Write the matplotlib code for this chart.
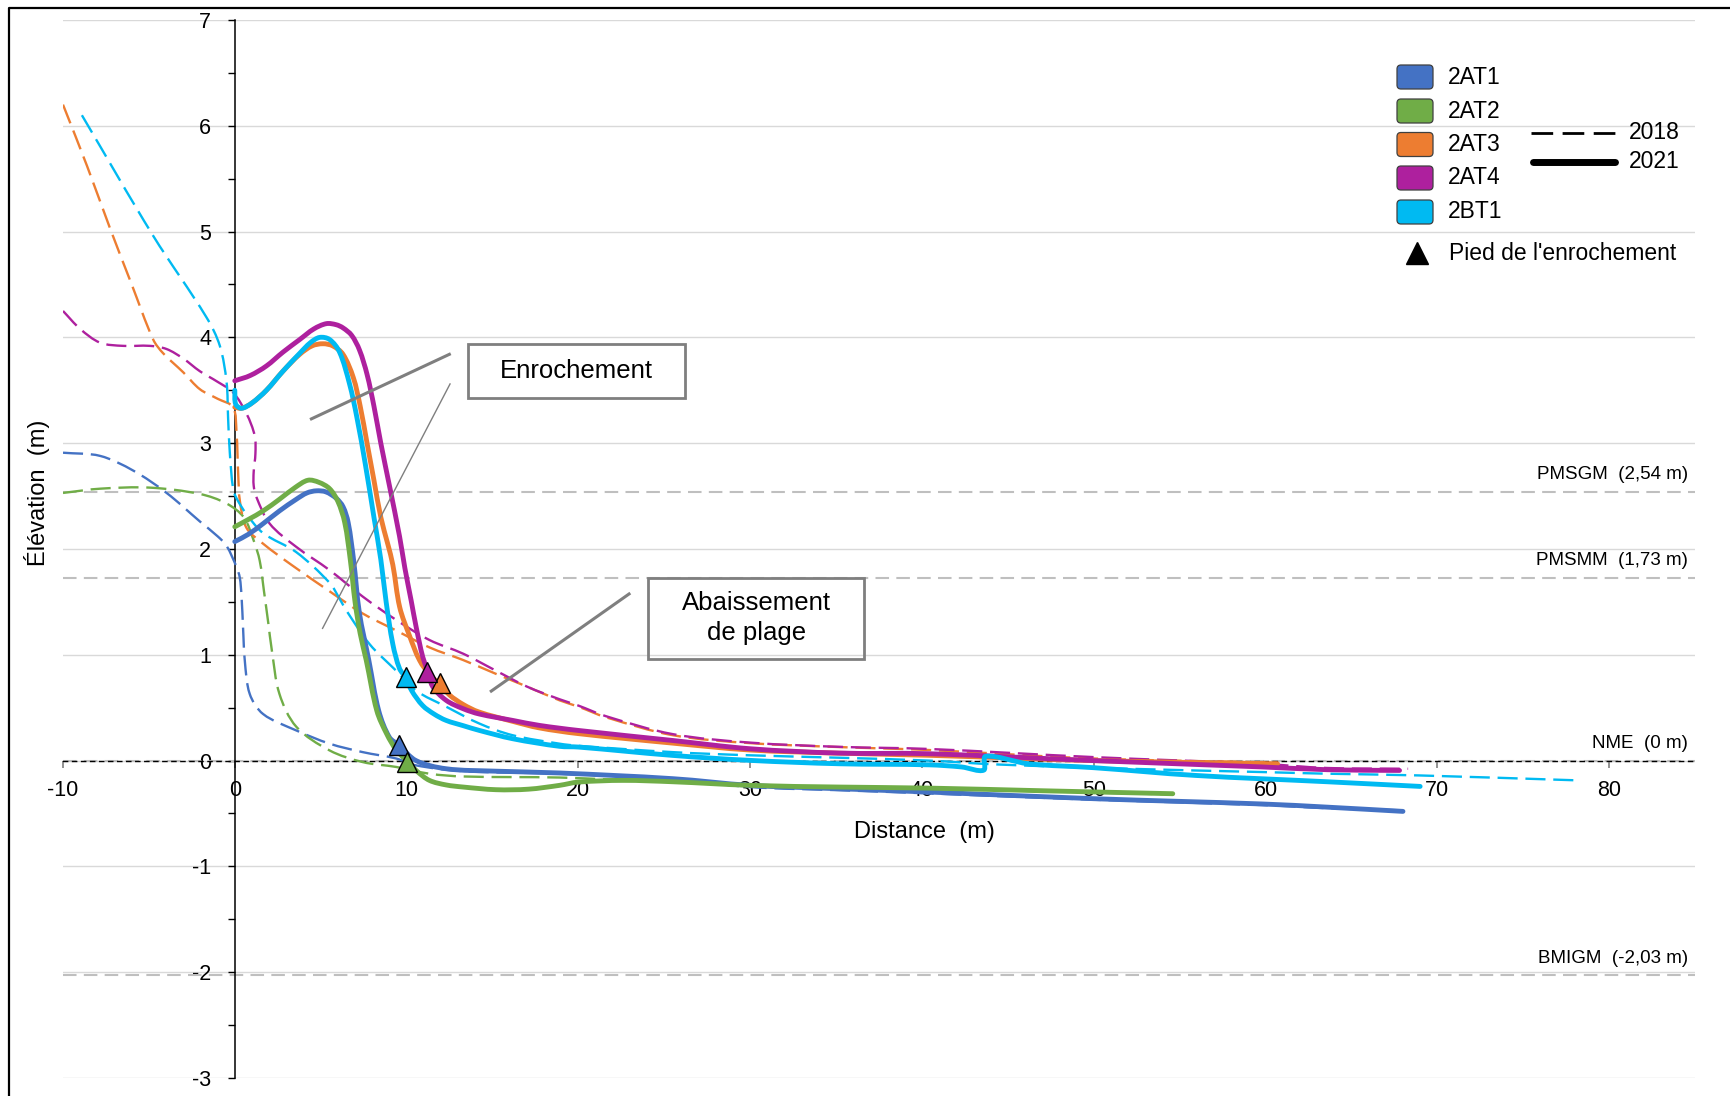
import numpy as np
import matplotlib
matplotlib.use('Agg')
import matplotlib.pyplot as plt
import matplotlib.patches as mpatches
from matplotlib.path import Path
from matplotlib.ticker import MultipleLocator

plt.rcParams['font.family'] = ['Liberation Sans', 'DejaVu Sans']
plt.rcParams['axes.unicode_minus'] = False

# Beach profiles (distance m, elevation m)
profiles = ['2AT1', '2AT2', '2AT3', '2AT4', '2BT1']
colors = ['#4472C4', '#70AD47', '#ED7D31', '#AE209E', '#00BAF2']

# --- 2018 surveys
x_2at1_2018 = [-10, -7.84, -5.9, -3.97, -2.03, -1.0, -0.48, 0.1, 0.29, 0.39, 0.48, 0.58, 0.87, 1.65, 3.58, 5.52,
               7.45, 9.39, 10.55, 13.3, 18.9, 25.5, 30, 35.2, 40.4, 50, 59.8, 63.6, 68]
y_2at1_2018 = [2.91, 2.88, 2.74, 2.53, 2.26, 2.12, 2.03, 1.83, 1.73, 1.56, 1.26, 0.95, 0.63, 0.44, 0.285, 0.16,
               0.08, 0.02, -0.045, -0.1, -0.124, -0.175, -0.25, -0.28, -0.31, -0.37, -0.42, -0.45, -0.47]

x_2at2_2018 = [-10, -7.84, -4.94, -2.03, -0.48, 0.52, 1.1, 1.45, 1.7, 1.95, 2.15, 2.6, 3.58, 5.52, 7.45, 9.39,
               11.33, 13.3, 18.9, 22, 25.5, 30, 40.4, 54.6]
y_2at2_2018 = [2.53, 2.57, 2.58, 2.52, 2.43, 2.3, 2.08, 1.89, 1.6, 1.3, 1.05, 0.63, 0.32, 0.096, -0.014, -0.06,
               -0.124, -0.15, -0.16, -0.18, -0.2, -0.235, -0.265, -0.32]

x_2at3_2018 = [-10, -8.6, -7.26, -6.0, -4.75, -4.17, -3.0, -2.03, -1.0, -0.1, 0.1, 0.2, 0.3, 0.68, 1.65, 3.3,
               5.52, 7.45, 9.39, 11.33, 13.3, 15.2, 17, 18.9, 20, 21.6, 25.5, 30, 35.2, 40.4, 50, 60.7]
y_2at3_2018 = [6.2, 5.62, 5.03, 4.5, 3.98, 3.85, 3.67, 3.51, 3.42, 3.34, 3.1, 2.7, 2.45, 2.2, 2.05, 1.85,
               1.6, 1.39, 1.23, 1.07, 0.95, 0.82, 0.7, 0.57, 0.51, 0.41, 0.24, 0.165, 0.128, 0.1, 0.02, -0.02]

x_2at4_2018 = [-10, -9, -7.84, -6.5, -4.94, -3.97, -3.0, -2.03, -1.0, -0.1, 0.68, 1.16, 1.2, 1.1, 1.1, 1.26,
               2.03, 3.58, 5.52, 7.45, 9.39, 11.33, 13.3, 15.2, 17, 18.9, 20, 21.6, 25.5, 30, 35.2, 40.4, 50,
               59.75, 63.6, 68.3]
y_2at4_2018 = [4.25, 4.08, 3.95, 3.92, 3.92, 3.89, 3.8, 3.68, 3.58, 3.48, 3.28, 3.07, 2.9, 2.73, 2.6, 2.49,
               2.24, 2.02, 1.8, 1.55, 1.33, 1.14, 1.01, 0.85, 0.7, 0.58, 0.52, 0.42, 0.25, 0.17, 0.13, 0.11, 0.033,
               -0.03, -0.07, -0.077]

x_2bt1_2018 = [-8.9, -4.75, -1.65, -0.87, -0.48, -0.39, -0.29, -0.1, 0.1, 0.68, 1.65, 3.58, 5.52, 6.1, 6.49,
               7.85, 9.39, 10.56, 12.3, 14.24, 16.17, 18.9, 20, 25.5, 30, 35.2, 40.4, 44.3, 52, 59.75, 63.6, 68.9,
               78.2]
y_2bt1_2018 = [6.1, 4.96, 4.19, 3.92, 3.58, 3.24, 2.91, 2.57, 2.48, 2.33, 2.15, 1.97, 1.68, 1.53, 1.42,
               1.1, 0.85, 0.66, 0.51, 0.35, 0.24, 0.16, 0.14, 0.08, 0.05, 0.027, 0.0, -0.036, -0.077, -0.108,
               -0.124, -0.14, -0.187]

# --- 2021 surveys
x_2at1_2021 = [0, 0.8, 1.65, 2.6, 3.58, 4.2, 4.75, 5.3, 5.9, 6.3, 6.6, 6.92, 7.25, 7.8, 8.38, 9.0, 9.55, 10.55,
               12.3, 15.2, 18.9, 25.5, 30, 35.2, 40.4, 50, 59.8, 63.6, 68]
y_2at1_2021 = [2.07, 2.14, 2.24, 2.36, 2.47, 2.53, 2.55, 2.54, 2.48, 2.4, 2.25, 1.89, 1.4, 0.95, 0.47, 0.22, 0.147,
               0.0, -0.077, -0.1, -0.117, -0.171, -0.234, -0.266, -0.297, -0.36, -0.41, -0.44, -0.48]

x_2at2_2021 = [0, 0.8, 1.65, 2.6, 3.5, 4.26, 4.9, 5.52, 6.0, 6.4, 6.73, 7.0, 7.3, 7.65, 8.27, 8.85, 9.4, 10.0,
               10.6, 11.33, 12.3, 13.3, 15.2, 17.1, 18.9, 20, 22.6, 25.5, 30, 35.2, 40.4, 47, 54.6]
y_2at2_2021 = [2.21, 2.28, 2.36, 2.47, 2.58, 2.65, 2.63, 2.57, 2.45, 2.25, 1.89, 1.5, 1.2, 0.95, 0.47, 0.25, 0.1,
               0.0, -0.1, -0.187, -0.23, -0.25, -0.275, -0.27, -0.234, -0.203, -0.187, -0.2, -0.234, -0.25,
               -0.26, -0.285, -0.313]

x_2at3_2021 = [0, 0.4, 1.0, 1.84, 2.8, 3.78, 4.5, 5.13, 5.7, 6.3, 6.9, 7.3, 7.7, 8.1, 8.5, 8.9, 9.2, 9.6, 10.17,
               10.75, 11.4, 11.97, 12.5, 13.3, 14.2, 16.2, 17.7, 20, 25.5, 30, 35.2, 40.4, 50, 60.7]
y_2at3_2021 = [3.34, 3.33, 3.38, 3.5, 3.68, 3.84, 3.92, 3.94, 3.92, 3.84, 3.62, 3.35, 3.0, 2.65, 2.3, 2.05, 1.85,
               1.45, 1.18, 0.95, 0.8, 0.72, 0.62, 0.53, 0.46, 0.37, 0.31, 0.255, 0.165, 0.1, 0.07, 0.05, 0.0, -0.03]

x_2at4_2021 = [0, 0.9, 1.84, 2.8, 3.78, 4.6, 5.33, 5.9, 6.3, 6.8, 7.26, 7.7, 8.1, 8.5, 9.0, 9.59, 9.9, 10.27,
               10.56, 10.94, 11.2, 11.52, 12.3, 13.3, 14.24, 16.17, 17.72, 20, 25.5, 30, 35.2, 40.4, 50, 59.8,
               63.6, 67.8]
y_2at4_2021 = [3.59, 3.64, 3.73, 3.86, 3.98, 4.08, 4.13, 4.12, 4.09, 4.02, 3.88, 3.65, 3.35, 3.0, 2.6, 2.12, 1.82,
               1.51, 1.26, 0.98, 0.86, 0.7, 0.57, 0.49, 0.44, 0.38, 0.333, 0.285, 0.19, 0.112, 0.071, 0.065, 0.0,
               -0.06, -0.086, -0.093]

x_2bt1_2021 = [0, 0.05, 0.39, 1.0, 1.84, 2.8, 3.78, 4.4, 4.94, 5.52, 6.1, 6.68, 7.1, 7.6, 8.1, 8.5, 8.81, 9.2,
               9.59, 9.97, 10.3, 10.94, 11.6, 12.3, 13.3, 14.24, 16.17, 18.9, 20, 25.5, 30, 35.2, 40.4, 42.3,
               43.6, 43.7, 46.2, 50, 55.9, 63.6, 69]
y_2bt1_2021 = [3.5, 3.37, 3.33, 3.38, 3.5, 3.68, 3.85, 3.95, 4.0, 3.98, 3.86, 3.56, 3.25, 2.8, 2.3, 1.9, 1.5, 1.1,
               0.87, 0.78, 0.66, 0.52, 0.44, 0.38, 0.33, 0.285, 0.207, 0.135, 0.128, 0.049, 0.002, -0.03, -0.04,
               -0.06, -0.09, 0.04, -0.03, -0.067, -0.14, -0.2, -0.244]

# Toe of the riprap (2021)
toe_x = [9.55, 10.0, 11.97, 11.2, 9.97]
toe_y = [0.147, -0.01, 0.73, 0.84, 0.79]

# Tide levels
tide_names = ['PMSGM  (2,54 m)', 'PMSMM  (1,73 m)', 'NME  (0 m)', 'BMIGM  (-2,03 m)']
tide_levels = [2.54, 1.73, 0.0, -2.03]

lines_2018 = [(x_2at1_2018, y_2at1_2018), (x_2at2_2018, y_2at2_2018), (x_2at3_2018, y_2at3_2018),
              (x_2at4_2018, y_2at4_2018), (x_2bt1_2018, y_2bt1_2018)]
lines_2021 = [(x_2at1_2021, y_2at1_2021), (x_2at2_2021, y_2at2_2021), (x_2at3_2021, y_2at3_2021),
              (x_2at4_2021, y_2at4_2021), (x_2bt1_2021, y_2bt1_2021)]

W, H = 1730, 1096
ASPECT = 105.8 / 17.21  # pixels per metre, vertical vs horizontal


def smooth_path(xs, ys):
    # smoothed polyline through the points (chord-length Hermite -> cubic Bezier)
    P = np.column_stack([np.asarray(xs, float), np.asarray(ys, float) * ASPECT])
    d = np.maximum(np.linalg.norm(np.diff(P, axis=0), axis=1), 1e-6)
    t = np.concatenate([[0], np.cumsum(d)])
    m = np.zeros_like(P)
    m[0] = (P[1] - P[0]) / d[0]
    m[-1] = (P[-1] - P[-2]) / d[-1]
    for i in range(1, len(P) - 1):
        m[i] = (P[i + 1] - P[i - 1]) / (t[i + 1] - t[i - 1])
    verts = [P[0]]
    codes = [Path.MOVETO]
    for i in range(len(P) - 1):
        verts += [P[i] + m[i] * d[i] / 3, P[i + 1] - m[i + 1] * d[i] / 3, P[i + 1]]
        codes += [Path.CURVE4] * 3
    verts = np.array(verts)
    verts[:, 1] /= ASPECT
    return Path(verts, codes)


fig = plt.figure(figsize=(W / 100, H / 100), dpi=100)
ax = fig.add_axes([63 / W, (H - 1078) / H, (1695 - 63) / W, (1078 - 20) / H])
ax.set_xlim(-10, 85)
ax.set_ylim(-3, 7)

# axes through the origin
for s in ['top', 'right']:
    ax.spines[s].set_visible(False)
ax.spines['left'].set_position(('data', 0))
ax.spines['left'].set_linewidth(1.1)
ax.spines['bottom'].set_position(('data', 0))
ax.spines['bottom'].set_linestyle((0, (3, 3.5)))
ax.spines['bottom'].set_linewidth(1.0)

ax.set_yticks(range(-3, 8))
ax.yaxis.set_minor_locator(MultipleLocator(0.5))
ax.set_xticks(range(-10, 81, 10))
ax.tick_params(axis='y', which='both', direction='out', length=5, width=1, pad=12, labelsize=15.5)
ax.tick_params(axis='x', direction='out', length=5, width=1.2, color='#7F7F7F', pad=9, labelsize=15.5)
ax.yaxis.grid(True, color='#D9D9D9', lw=1)
ax.set_axisbelow(True)

# tide levels
for name, lev in zip(tide_names, tide_levels):
    ax.axhline(lev, color='#BFBFBF', lw=1.5, ls=(0, (6.5, 3.5)), zorder=1.5)
    ax.text(84.6, lev + 0.08, name, ha='right', va='bottom', fontsize=13.5, zorder=6)

# 2018 profiles dashed, 2021 solid
for (xs, ys), c in zip(lines_2018, colors):
    ax.add_patch(mpatches.PathPatch(smooth_path(xs, ys), fill=False, edgecolor=c, lw=1.7,
                                    ls=(0, (8.5, 3.3)), zorder=3))
for (xs, ys), c in zip(lines_2021, colors):
    ax.add_patch(mpatches.PathPatch(smooth_path(xs, ys), fill=False, edgecolor=c, lw=3.5,
                                    capstyle='round', joinstyle='round', zorder=4))

for tx, ty, c in zip(toe_x, toe_y, colors):
    ax.plot(tx, ty, marker='^', ms=15, mfc=c, mec='black', mew=1, ls='none', zorder=6)

# annotation callouts
ax.add_patch(mpatches.Rectangle((13.6, 3.43), 12.6, 0.51, fill=False, ec='#7F7F7F', lw=2, zorder=5))
ax.text(19.9, 3.685, 'Enrochement', ha='center', va='center', fontsize=18.5, zorder=6)
ax.plot([12.49, 4.46], [3.84, 3.23], color='#7F7F7F', lw=2.2, zorder=5)
ax.plot([12.53, 5.11], [3.56, 1.25], color='#7F7F7F', lw=1.0, zorder=5)

ax.add_patch(mpatches.Rectangle((24.04, 0.96), 12.61, 0.77, fill=False, ec='#7F7F7F', lw=2, zorder=5))
ax.text(30.35, 1.345, 'Abaissement\nde plage', ha='center', va='center', fontsize=18.5,
        linespacing=1.3, zorder=6)
ax.plot([22.95, 14.93], [1.575, 0.657], color='#7F7F7F', lw=2.2, zorder=5)

# overlay in pixel units: frame, axis titles, legend
ov = fig.add_axes([0, 0, 1, 1], zorder=10)
ov.set_xlim(0, W)
ov.set_ylim(H, 0)
ov.axis('off')
ov.patch.set_alpha(0)

ov.plot([9.3, 9.3, W + 5], [H + 5, 7.7, 7.7], color='black', lw=1.6)
ov.text(37.5, 493, 'Élévation  (m)', rotation=90, ha='center', va='center', fontsize=17)
ov.text(924.6, 832, 'Distance  (m)', ha='center', va='center', fontsize=17)

row_y = [77, 111, 144.5, 178, 212]
for name, c, yy in zip(profiles, colors, row_y):
    ov.add_patch(mpatches.FancyBboxPatch((1399, yy - 10), 32, 20, boxstyle='round,pad=2,rounding_size=4',
                                         fc=c, ec='#404040', lw=0.9))
    ov.text(1448, yy, name, ha='left', va='center', fontsize=16.5)

ov.plot([1531, 1617], [132.7, 132.7], color='black', lw=2, ls=(0, (7.8, 3.4)))
ov.text(1629, 132.7, '2018', ha='left', va='center', fontsize=16.5)
ov.plot([1533, 1615], [161.7, 161.7], color='black', lw=5, solid_capstyle='round')
ov.text(1629, 161.7, '2021', ha='left', va='center', fontsize=16.5)
ov.plot(1416.7, 253, marker='^', ms=16, color='black', ls='none')
ov.text(1449, 253, "Pied de l'enrochement", ha='left', va='center', fontsize=16.5)

fig.savefig('out.png', dpi=100)
